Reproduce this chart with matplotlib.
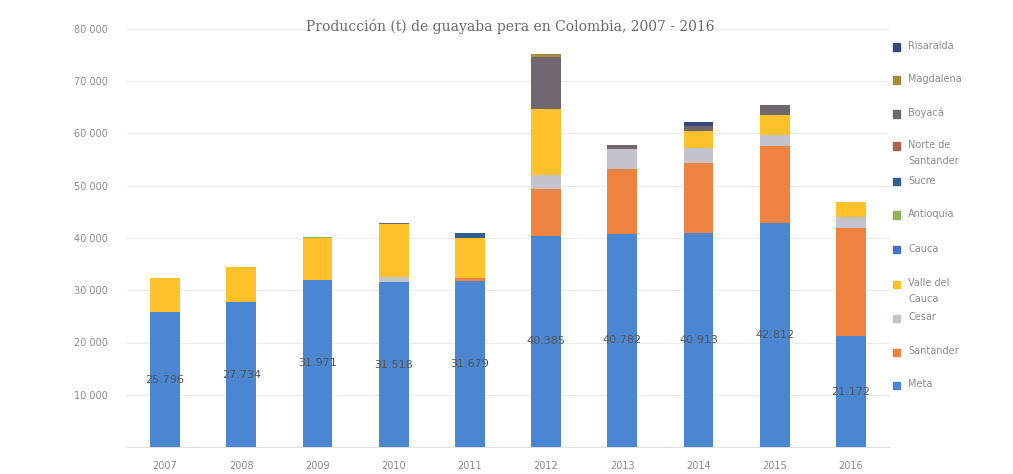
import matplotlib
matplotlib.use("Agg")
import matplotlib.pyplot as plt
from matplotlib.patches import Rectangle
import numpy as np

years = ["2007", "2008", "2009", "2010", "2011", "2012", "2013", "2014", "2015", "2016"]

# series, bottom to top
meta            = [25796, 27734, 31971, 31518, 31679, 40385, 40782, 40913, 42812, 21172]
santander       = [0, 0, 0, 0, 700, 9000, 12450, 13410, 14750, 20690]
cesar           = [0, 0, 0, 1100, 0, 2700, 3830, 2870, 2100, 2100]
valle_del_cauca = [6580, 6750, 8000, 9990, 7660, 12640, 0, 3260, 3830, 2870]
cauca           = [0, 0, 0, 0, 0, 0, 0, 0, 0, 0]
antioquia       = [0, 0, 250, 0, 0, 0, 0, 0, 0, 0]
sucre           = [0, 0, 0, 0, 960, 0, 0, 0, 0, 0]
norte_santander = [0, 0, 0, 0, 0, 0, 0, 0, 0, 0]
boyaca          = [0, 0, 0, 300, 0, 9960, 800, 900, 1920, 0]
magdalena       = [0, 0, 0, 0, 0, 600, 0, 0, 0, 0]
risaralda       = [0, 0, 0, 0, 0, 0, 0, 800, 0, 0]

series_names = ["Meta", "Santander", "Cesar", "Valle del\nCauca", "Cauca", "Antioquia",
                "Sucre", "Norte de\nSantander", "Boyacá", "Magdalena", "Risaralda"]
series_vals = [meta, santander, cesar, valle_del_cauca, cauca, antioquia,
               sucre, norte_santander, boyaca, magdalena, risaralda]
colors = ["#4A86D2", "#EE8240", "#C4C2CC", "#FFC12A", "#4472C4", "#8FB45A",
          "#2E5F8E", "#B0634A", "#6F6670", "#A78A3A", "#34497A"]

title = "Producción (t) de guayaba pera en Colombia, 2007 - 2016"
yticks = [0, 10000, 20000, 30000, 40000, 50000, 60000, 70000, 80000]

fig = plt.figure(figsize=(10.13, 4.74), dpi=100)
ax = fig.add_axes([127/1013, 1-447/474, (889-127)/1013, (447-29)/474])

x = np.arange(len(years))
bottom = np.zeros(len(years))
containers = []
for name, vals, c in zip(series_names, series_vals, colors):
    v = np.array(vals, dtype=float)
    bc = ax.bar(x, v, 0.39, bottom=bottom, color=c, label=name, zorder=3)
    containers.append(bc)
    bottom += v

ax.bar_label(containers[0], labels=[f"{v:,}".replace(",", ".") for v in meta],
             label_type="center", fontsize=8, color="#555555", zorder=4)

ax.set_xlim(-0.5, len(years) - 0.5)
ax.set_ylim(0, 80000)
ax.set_yticks(yticks)
ax.set_yticklabels(["" if t == 0 else f"{t:,}".replace(",", " ") for t in yticks],
                   fontsize=7, color="#8a8a8a")
ax.set_xticks(x)
ax.set_xticklabels(years, fontsize=7, color="#8a8a8a")
ax.tick_params(length=0, pad=10)
ax.tick_params(axis="y", pad=14)
ax.grid(axis="y", color="#ececec", linewidth=0.8, zorder=0)
for s in ax.spines.values():
    s.set_visible(False)
ax.spines["bottom"].set_visible(True)
ax.spines["bottom"].set_color("#e0e0e0")

fig.text(510/1013, 1-27/474, title, ha="center", va="center", fontsize=10,
         color="#6a6a6a", family="DejaVu Serif")

# legend (top entry first); swatch aligned with the first text line
legend_y = [47, 80, 114, 146, 182, 215, 250, 284, 318, 352, 385]
for (name, c), ly in zip(reversed(list(zip(series_names, colors))), legend_y):
    fig.patches.append(Rectangle((893/1013, 1-(ly+3.5)/474), 7/1013, 7/474,
                                 transform=fig.transFigure, color=c, figure=fig))
    fig.text(908/1013, 1-(ly-6)/474, name, ha="left", va="top", fontsize=7,
             color="#8a8a8a", linespacing=1.7)

fig.savefig("out.png", dpi=100)
